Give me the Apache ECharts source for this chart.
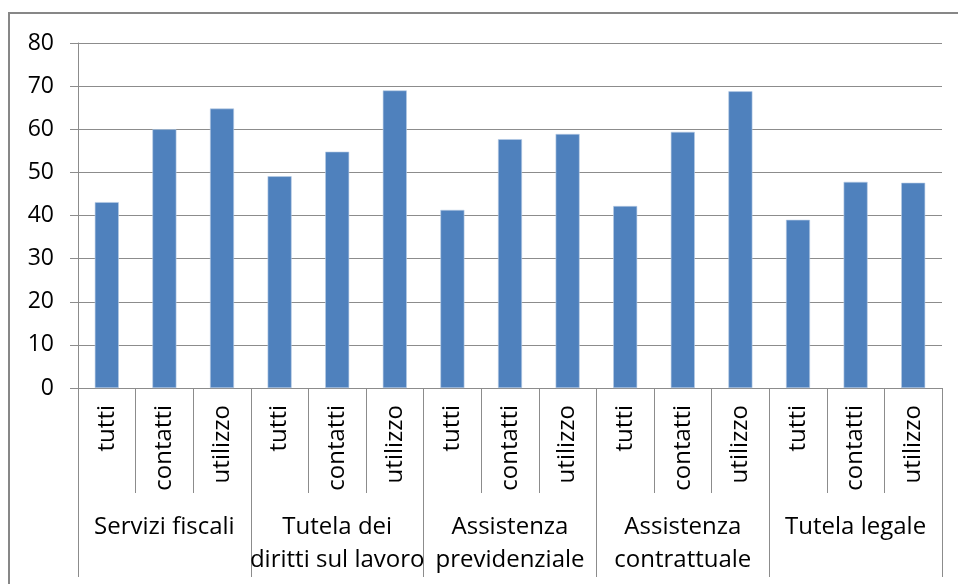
<!DOCTYPE html>
<html>
<head>
<meta charset="utf-8">
<script src="https://cdn.jsdelivr.net/npm/echarts@6/dist/echarts.min.js"></script>
<style>
  html, body { margin: 0; padding: 0; background: #fff; }
  #frame { position: absolute; left: 8px; top: 12px; width: 1000px; height: 600px;
           border-left: 2px solid #878787; border-top: 2px solid #878787; }
  #main { position: absolute; left: 0; top: 0; width: 958px; height: 584px; }
</style>
</head>
<body>
<div id="frame"></div>
<div id="main"></div>
<script>
var groups = ['Servizi fiscali', 'Tutela dei\ndiritti sul lavoro', 'Assistenza\nprevidenziale', 'Assistenza\ncontrattuale', 'Tutela legale'];
var subs = ['tutti', 'contatti', 'utilizzo'];
var values = [43.1, 60.0, 64.8, 49.1, 54.8, 69.0, 41.3, 57.7, 58.9, 42.2, 59.4, 68.8, 39.0, 47.8, 47.6];
var yTicks = { min: 0, max: 80, interval: 10 };

var categories = [];
groups.forEach(function (g) {
  subs.forEach(function (s) { categories.push(s); });
});

var font = 'Open Sans';
var chart = echarts.init(document.getElementById('main'));
chart.setOption({
  animation: false,
  grid: { left: 78, right: 16, top: 43, bottom: 196, containLabel: false },
  xAxis: [{
    type: 'category',
    data: categories,
    position: 'bottom',
    axisLine: { lineStyle: { color: '#8c8c8c', width: 1 } },
    axisTick: { show: true, interval: 0, length: 105, lineStyle: { color: '#8c8c8c' } },
    axisLabel: { interval: 0, rotate: 90, margin: 17, color: '#000', fontFamily: font, fontSize: 24 }
  }, {
    type: 'category',
    data: groups,
    position: 'bottom',
    axisLine: { show: false },
    axisTick: { show: true, interval: 0, length: 189, lineStyle: { color: '#8c8c8c' } },
    axisLabel: { interval: 0, margin: 123, color: '#000', fontFamily: font, fontSize: 24, lineHeight: 33 }
  }],
  yAxis: {
    type: 'value',
    min: yTicks.min, max: yTicks.max, interval: yTicks.interval,
    axisLine: { show: true, lineStyle: { color: '#8c8c8c' } },
    axisTick: { show: true, length: 8, lineStyle: { color: '#8c8c8c' } },
    axisLabel: { margin: 24, color: '#000', fontFamily: font, fontSize: 23 },
    splitLine: { lineStyle: { color: '#8c8c8c', width: 1 } }
  },
  series: [{
    type: 'bar',
    xAxisIndex: 0,
    data: values,
    barWidth: 24,
    itemStyle: { color: '#4F81BD', borderColor: '#b9cde5', borderWidth: 0.6 }
  }]
});
</script>
</body>
</html>
